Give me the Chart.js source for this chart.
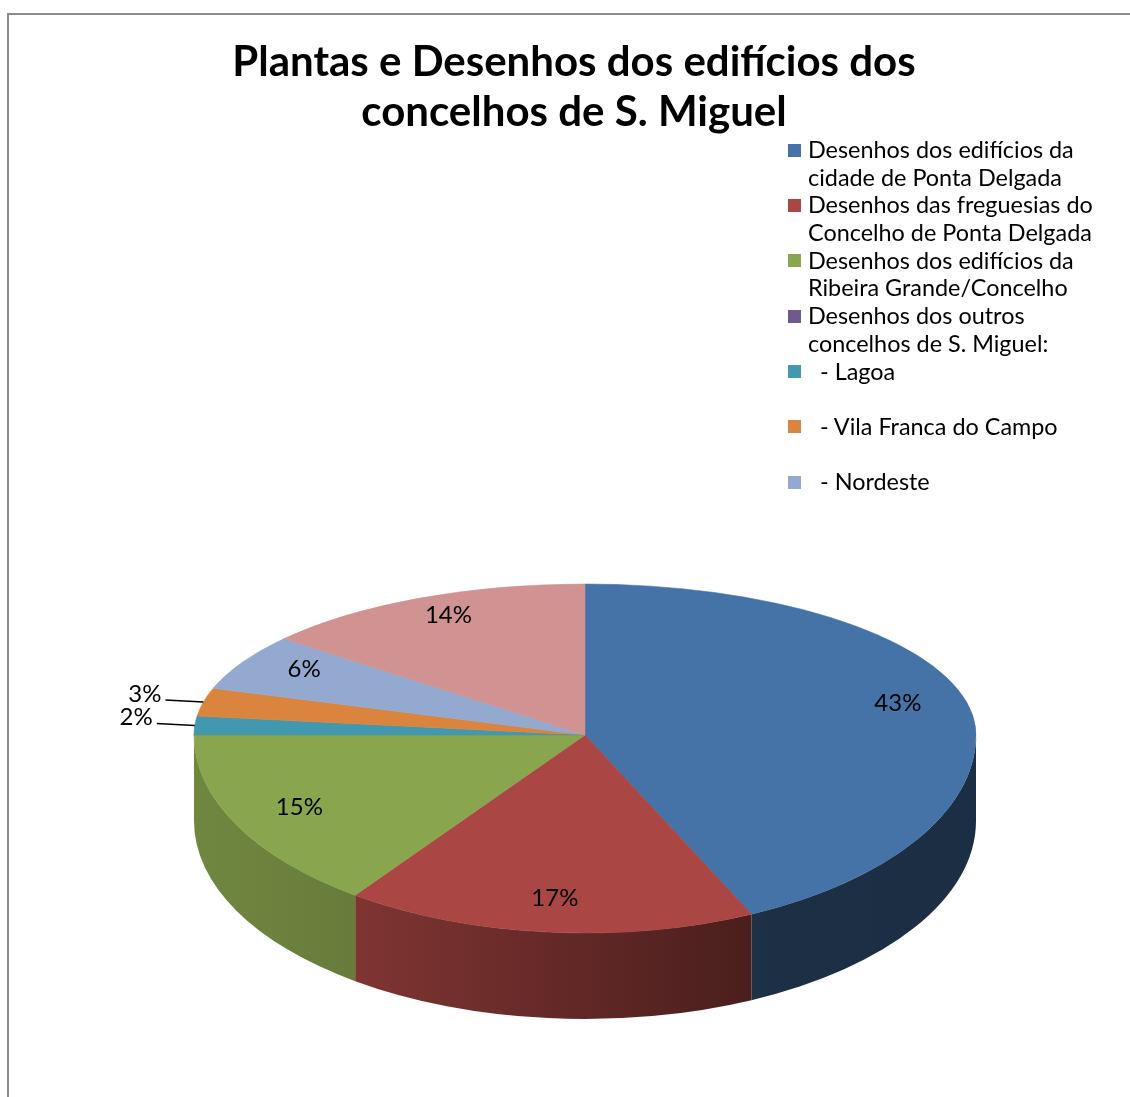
<!DOCTYPE html>
<html><head><meta charset="utf-8">
<script src="https://cdn.jsdelivr.net/npm/chart.js@4.4.1/dist/chart.umd.min.js"></script>
<style>
html,body{margin:0;padding:0;background:#fff;}
#wrap{position:relative;width:1130px;height:1097px;overflow:hidden;background:#fff;}
#frame{position:absolute;left:7px;top:13px;width:1200px;height:1200px;border-left:2px solid #8c8c8c;border-top:2px solid #8c8c8c;}
canvas{position:absolute;left:0;top:0;}
#legend{position:absolute;left:788px;top:136px;font-family:Lato,sans-serif;font-size:23.4px;line-height:27.7px;color:#000;}
.item{position:relative;padding-left:20px;height:55.4px;white-space:pre;}
.sw{position:absolute;left:0;top:7.5px;width:13px;height:13px;}
</style></head>
<body><div id="wrap"><div id="frame"></div><canvas id="c" width="1130" height="1097"></canvas><div id="legend"></div></div>
<script>
// ---- data ----
const titleLines = ['Plantas e Desenhos dos edifícios dos', 'concelhos de S. Miguel'];
const categories = [
  'Desenhos dos edifícios da\ncidade de Ponta Delgada',
  'Desenhos das freguesias do\nConcelho de Ponta Delgada',
  'Desenhos dos edifícios da\nRibeira Grande/Concelho',
  'Desenhos dos outros\nconcelhos de S. Miguel:',
  '  - Lagoa',
  '  - Vila Franca do Campo',
  '  - Nordeste',
  ''
];
const values = [43, 17, 15, 0, 2, 3, 6, 14];
const colors = ['#4572A7', '#AA4643', '#89A54E', '#71588F', '#4198AF', '#DB843D', '#93A9CF', '#D19392'];

// ---- legend (HTML) ----
const legendEl = document.getElementById('legend');
categories.forEach((c, i) => {
  if (!c) return;
  const d = document.createElement('div'); d.className = 'item';
  const s = document.createElement('span'); s.className = 'sw'; s.style.background = colors[i];
  d.appendChild(s); d.appendChild(document.createTextNode(c));
  legendEl.appendChild(d);
});

// ---- 3D pie geometry ----
const CX = 585, CY = 735, RX = 391, RYT = 151, RYB = 198, DEPTH = 86;
function rgb(hex){ return [1,3,5].map(k => parseInt(hex.slice(k,k+2),16)); }
function shade(hex, f){ const c = rgb(hex).map(v => Math.round(v*f)); return `rgb(${c[0]},${c[1]},${c[2]})`; }

const pie3d = {
  id: 'pie3d',
  beforeDatasetsDraw(chart){
    const ctx = chart.ctx, meta = chart.getDatasetMeta(0);
    const a0 = meta.data[0];
    const x = a0.x, y = a0.y, R = a0.outerRadius;
    const sx = RX / R;
    // side wall
    ctx.save();
    ctx.translate(CX, CY); ctx.scale(sx, RYB / R); ctx.translate(-x, -y);
    const D = DEPTH * R / RYB;
    meta.data.forEach((arc, i) => {
      const lo = Math.max(arc.startAngle, 0), hi = Math.min(arc.endAngle, Math.PI);
      if (hi <= lo) return;
      const g = ctx.createLinearGradient(x - R, 0, x + R, 0);
      g.addColorStop(0, shade(colors[i], 0.82));
      g.addColorStop(0.19, shade(colors[i], 0.76));
      g.addColorStop(0.75, shade(colors[i], 0.41));
      g.addColorStop(1, shade(colors[i], 0.40));
      ctx.beginPath();
      ctx.arc(x, y, R, lo, hi);
      ctx.arc(x, y + D, R, hi, lo, true);
      ctx.closePath();
      ctx.fillStyle = g; ctx.fill();
    });
    ctx.restore();
    // top face: two halves (perspective approximation)
    const halves = [[RYT, 0, CY + 0.5], [RYB, CY - 0.5, chart.height]];
    halves.forEach(([ry, top, bot]) => {
      ctx.save();
      ctx.beginPath(); ctx.rect(0, top, chart.width, bot - top); ctx.clip();
      ctx.translate(CX, CY); ctx.scale(sx, ry / R); ctx.translate(-x, -y);
      meta.data.forEach(arc => arc.draw(ctx));
      ctx.restore();
    });
    return false;
  },
  afterDraw(chart){
    const ctx = chart.ctx, meta = chart.getDatasetMeta(0);
    const total = values.reduce((a, b) => a + b, 0);
    ctx.save();
    ctx.font = '24px Lato';
    ctx.fillStyle = '#000'; ctx.strokeStyle = '#000'; ctx.lineWidth = 1.6;
    ctx.textBaseline = 'middle';
    meta.data.forEach((arc, i) => {
      const v = values[i]; if (!v) return;
      const txt = Math.round(v / total * 100) + '%';
      const m = (arc.startAngle + arc.endAngle) / 2;
      const c = Math.cos(m), s = Math.sin(m);
      const ry = s >= 0 ? RYB : RYT;
      if (v / total >= 0.05) {
        ctx.textAlign = 'center';
        ctx.fillText(txt, CX + RX * 0.82 * c, CY + ry * 0.85 * s - 4);
      } else {
        const ex = CX + RX * c, ey = CY + ry * s;
        const lx = ex - 38, ly = ey - 2;
        ctx.beginPath(); ctx.moveTo(ex, ey); ctx.lineTo(lx, ly); ctx.stroke();
        ctx.textAlign = 'right';
        ctx.fillText(txt, lx - 4, ly - 6);
      }
    });
    ctx.restore();
  }
};

function draw(){
  new Chart(document.getElementById('c'), {
    type: 'pie',
    data: { labels: categories, datasets: [{
      data: values, backgroundColor: colors, borderColor: colors,
      borderWidth: c => values[c.dataIndex] > 0 ? 1 : 0
    }]},
    options: {
      responsive: false, devicePixelRatio: 1, animation: false, events: [],
      layout: { padding: { left: 18 } },
      plugins: {
        legend: { display: false }, tooltip: { enabled: false },
        title: { display: true, text: titleLines, color: '#000',
          font: { family: 'Lato', size: 42, weight: 'bold', lineHeight: 1.19 },
          padding: { top: 37, bottom: 0 } }
      }
    },
    plugins: [pie3d]
  });
}
Promise.all([document.fonts.load('bold 42px Lato'), document.fonts.load('24px Lato')]).then(draw, draw);
</script>
</body></html>
